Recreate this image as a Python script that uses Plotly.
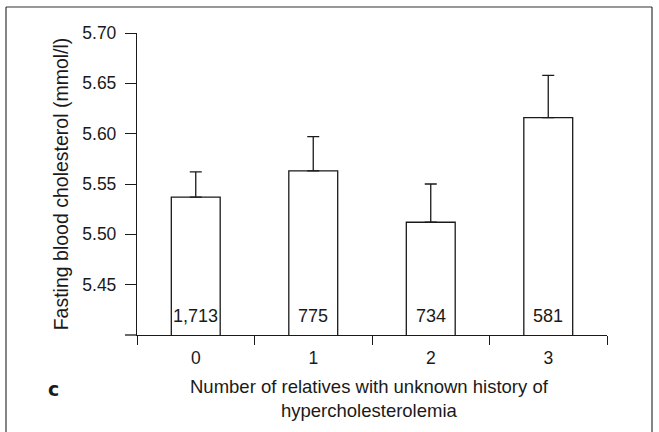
import plotly.graph_objects as go

# ---- data ----
categories = [0, 1, 2, 3]
tick_labels = ["0", "1", "2", "3"]
means = [5.537, 5.563, 5.512, 5.616]
sem_upper = [0.025, 0.034, 0.038, 0.042]
counts = ["1,713", "775", "734", "581"]
y_ticks = [5.45, 5.50, 5.55, 5.60, 5.65, 5.70]
y_title = "Fasting blood cholesterol (mmol/l)"
x_title = "Number of relatives with unknown history of<br>hypercholesterolemia"
panel_label = "c"

# ---- layout geometry (pixels) ----
W, H = 659, 432
L, R, T, B = 137, 607, 33, 335  # plot area (y axis sits on its left edge)
XLINE_START = 125               # x axis line pokes out left of the y axis
FONT = "Liberation Sans, Arial, Helvetica, sans-serif"
INK = "#1a1a1a"

def px_x(px):
    return (px - L) / (R - L)

def px_y(py):
    return (B - py) / (B - T)

fig = go.Figure()
fig.add_trace(go.Bar(
    x=categories, y=means, width=0.416,
    marker=dict(color="white", line=dict(color=INK, width=1.3)),
    error_y=dict(type="data", symmetric=False, array=sem_upper,
                 arrayminus=[0] * len(means), color=INK, thickness=1.3, width=6),
    hoverinfo="x+y",
))

annotations = []
for c, n in zip(categories, counts):
    annotations.append(dict(x=c, y=5.40, xref="x", yref="y", text=n, showarrow=False,
                            yanchor="bottom", yshift=7,
                            font=dict(family=FONT, size=18, color=INK)))
annotations.append(dict(x=px_x(369), y=px_y(374), xref="paper", yref="paper",
                        text=x_title, showarrow=False, xanchor="center", yanchor="top",
                        font=dict(family=FONT, size=18.5, color=INK)))
annotations.append(dict(x=px_x(53), y=px_y(389), xref="paper", yref="paper",
                        text="<b>" + panel_label + "</b>", showarrow=False,
                        xanchor="center", yanchor="middle",
                        font=dict(family="DejaVu Sans, sans-serif", size=19, color=INK)))

frame_line = dict(color="#333333", width=1.2)
fig.update_layout(
    width=W, height=H,
    margin=dict(l=L, r=W - R, t=T, b=H - B, pad=0),
    plot_bgcolor="white", paper_bgcolor="white",
    showlegend=False,
    font=dict(family=FONT, size=17, color=INK),
    xaxis=dict(
        range=[-0.5, 3.5],
        tickmode="array", tickvals=categories, ticktext=tick_labels,
        ticks="", showgrid=False, zeroline=False,
        showline=True, linecolor=INK, linewidth=1.3,
        ticklabelstandoff=7,
        tickfont=dict(family=FONT, size=17.5, color=INK),
        minor=dict(tickmode="array", tickvals=[-0.5, 0.5, 1.5, 2.5, 3.5],
                   ticks="outside", ticklen=9, tickcolor=INK, tickwidth=1.2,
                   showgrid=False),
    ),
    yaxis=dict(
        range=[5.40, 5.70],
        tickmode="array", tickvals=y_ticks, tickformat=".2f",
        ticks="outside", ticklen=11, tickcolor=INK, tickwidth=1.2,
        showline=True, linecolor=INK, linewidth=1.3,
        showgrid=False, zeroline=False,
        ticklabelstandoff=5,
        tickfont=dict(family=FONT, size=17.5, color=INK),
        title=dict(text=y_title, standoff=8,
                   font=dict(family=FONT, size=19.5, color=INK)),
    ),
    annotations=annotations,
    shapes=[
        # short extension of the x axis line to the left of the y axis
        dict(type="line", xref="paper", yref="paper",
             x0=px_x(XLINE_START), x1=0, y0=0, y1=0,
             line=dict(color=INK, width=1.3)),
        # outer figure frame: top, left and right edges
        dict(type="line", xref="paper", yref="paper",
             x0=px_x(6), x1=px_x(652), y0=px_y(7), y1=px_y(7), line=frame_line),
        dict(type="line", xref="paper", yref="paper",
             x0=px_x(6), x1=px_x(6), y0=px_y(7), y1=px_y(440), line=frame_line),
        dict(type="line", xref="paper", yref="paper",
             x0=px_x(652), x1=px_x(652), y0=px_y(7), y1=px_y(440), line=frame_line),
    ],
)

fig.write_html("out.html", config={"displayModeBar": False},
               post_script="document.body.style.margin='0px';")
